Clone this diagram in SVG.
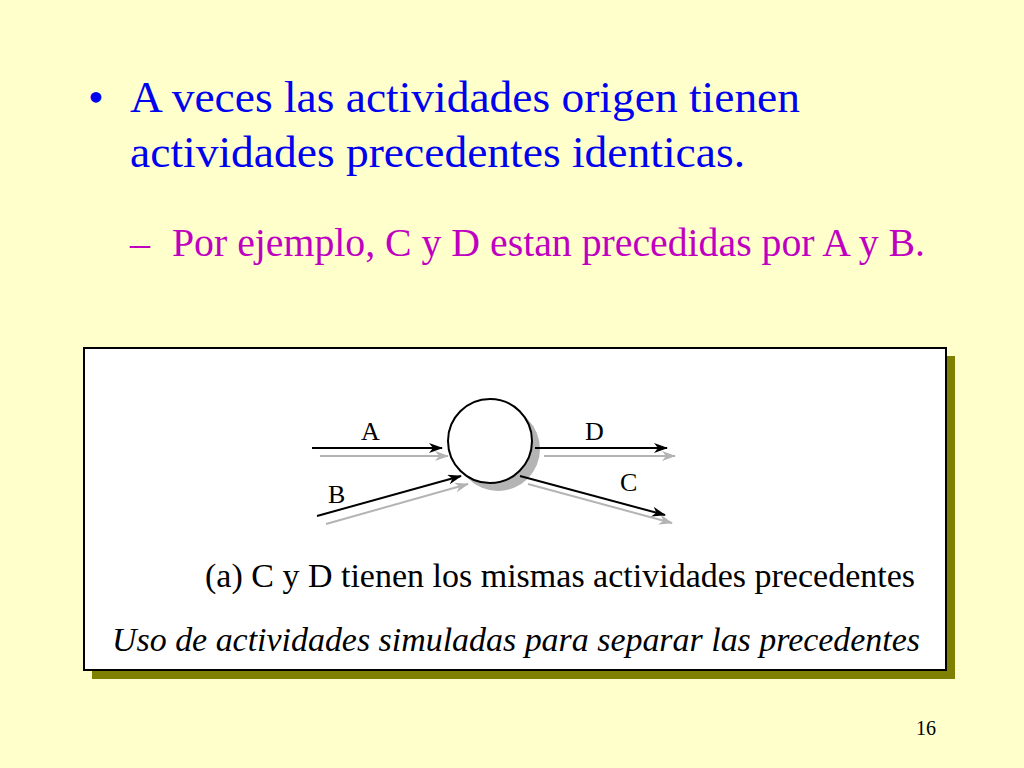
<svg xmlns="http://www.w3.org/2000/svg" width="1024" height="768" viewBox="0 0 1024 768">
<defs>
<style>
.t{font-family:"Liberation Serif","Times New Roman",serif;}
.blk{stroke:#000;stroke-width:2;fill:none;}
.gry{stroke:#b4b4b4;stroke-width:2;fill:none;}
.lbl{font-family:"Liberation Serif","Times New Roman",serif;font-size:26px;fill:#000;}
</style>
<marker id="ab" viewBox="0 0 14 10" refX="13" refY="5" markerWidth="14" markerHeight="10" markerUnits="userSpaceOnUse" orient="auto">
<path d="M0,0 L14,5 L0,10 L4,5 z" fill="#000"/>
</marker>
<marker id="ag" viewBox="0 0 14 10" refX="13" refY="5" markerWidth="14" markerHeight="10" markerUnits="userSpaceOnUse" orient="auto">
<path d="M0,0 L14,5 L0,10 L4,5 z" fill="#b4b4b4"/>
</marker>
</defs>
<rect width="1024" height="768" fill="#ffffcc"/>
<g id="title">
<text class="t" x="88" y="112" font-size="45" fill="#0000ee">•</text>
<text class="t" x="130" y="112" font-size="45" fill="#0000ee" textLength="670" lengthAdjust="spacingAndGlyphs">A veces las actividades origen tienen</text>
<text class="t" x="130" y="167" font-size="45" fill="#0000ee" textLength="615" lengthAdjust="spacingAndGlyphs">actividades precedentes identicas.</text>
</g>
<g id="subitem">
<text class="t" x="130" y="256" font-size="40" fill="#c000c0">–</text>
<text class="t" x="172" y="256" font-size="40" fill="#c000c0" textLength="753" lengthAdjust="spacingAndGlyphs">Por ejemplo, C y D estan precedidas por A y B.</text>
</g>
<g id="figure-box">
<rect x="92" y="356" width="863" height="323" fill="#808000"/>
<rect x="84" y="348" width="862" height="322" fill="#fff" stroke="#000" stroke-width="2"/>
</g>
<g id="node">
<circle cx="498" cy="449" r="42" fill="#b4b4b4"/>
<circle cx="490" cy="441" r="42" fill="#fff" stroke="#000" stroke-width="2"/>
</g>
<g id="connectors">
<line class="gry" x1="320" y1="456" x2="448" y2="456" marker-end="url(#ag)"/>
<line class="blk" x1="312" y1="448" x2="442" y2="448" marker-end="url(#ab)"/>
<line class="gry" x1="544" y1="456" x2="675" y2="456" marker-end="url(#ag)"/>
<line class="blk" x1="535" y1="448" x2="667" y2="448" marker-end="url(#ab)"/>
<line class="gry" x1="326" y1="524" x2="468" y2="484" marker-end="url(#ag)"/>
<line class="blk" x1="317" y1="516" x2="461" y2="476" marker-end="url(#ab)"/>
<line class="gry" x1="528" y1="484" x2="672" y2="523" marker-end="url(#ag)"/>
<line class="blk" x1="520" y1="476" x2="665" y2="515" marker-end="url(#ab)"/>
</g>
<g id="labels">
<text class="lbl" x="361" y="440">A</text>
<text class="lbl" x="585" y="440">D</text>
<text class="lbl" x="328" y="503">B</text>
<text class="lbl" x="620" y="491">C</text>
</g>
<g id="captions">
<text class="t" x="205" y="587" font-size="34" fill="#000" textLength="710" lengthAdjust="spacingAndGlyphs">(a) C y D tienen los mismas actividades precedentes</text>
<text class="t" x="112" y="651" font-size="34" font-style="italic" fill="#000" textLength="808" lengthAdjust="spacingAndGlyphs">Uso de actividades simuladas para separar las precedentes</text>
</g>
<text class="t" x="916" y="735" font-size="20" fill="#000">16</text>
</svg>
